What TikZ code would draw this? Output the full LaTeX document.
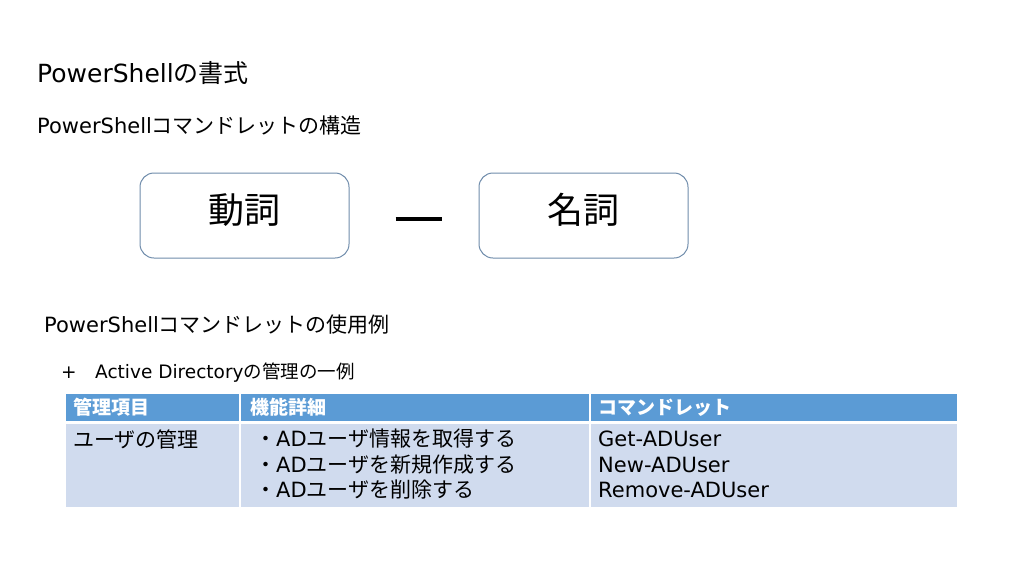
\documentclass[tikz,border=0pt]{standalone}
\usepackage{fontspec}
\setmainfont{Noto Sans CJK JP}
\newfontfamily\lat{DejaVu Sans}
\definecolor{hdr}{HTML}{5B9BD5}
\definecolor{bodyc}{HTML}{D0DBEE}
\definecolor{boxline}{HTML}{6F8CAB}
\begin{document}
\begin{tikzpicture}[x=1pt,y=-1pt,
  txt/.style={inner sep=0pt,anchor=west},
  cmdbox/.style={draw=boxline,line width=1pt,rounded corners=14pt,minimum width=209pt,minimum height=85pt,font=\fontsize{36}{40}\selectfont},
  hcell/.style={txt,text=white,font=\fontsize{19}{22}\selectfont\bfseries},
  bcell/.style={txt,font=\fontsize{21}{25}\selectfont}]
\useasboundingbox (0,0) rectangle (1024,576);
\fill[white] (0,0) rectangle (1024,576);
\node[txt,font=\fontsize{25}{30}\selectfont] (title) at (37,73) {{\lat PowerShell}の書式};
\node[txt,font=\fontsize{21}{25}\selectfont] (sub1) at (37,126) {{\lat PowerShell}コマンドレットの構造};
\node[cmdbox] (verb) at (244.5,215.5) {\smash{\raisebox{-7.5pt}{動詞}}};
\node[cmdbox] (noun) at (583.5,215.5) {\smash{\raisebox{-7.5pt}{名詞}}};
\draw[line width=4pt] ([shift={(46,3)}]verb.east) -- ([shift={(-37,3)}]noun.west);
\node[txt,font=\fontsize{21}{25}\selectfont] (sub2) at (44,325) {{\lat PowerShell}コマンドレットの使用例};
\node[txt,font=\fontsize{18.5}{22}\selectfont\lat] (plus) at (61,372.5) {+};
\node[txt,font=\fontsize{18.5}{22}\selectfont] (ad) at (95,372.5) {{\lat Active Directory}の管理の一例};
% table
\fill[hdr] (66,394) rectangle (239,421);
\fill[hdr] (241,394) rectangle (589,421);
\fill[hdr] (591,394) rectangle (957,421);
\fill[bodyc] (66,424) rectangle (239,507);
\fill[bodyc] (241,424) rectangle (589,507);
\fill[bodyc] (591,424) rectangle (957,507);
\node[hcell] (h1) at (73,407.5) {管理項目};
\node[hcell] (h2) at (250,407.5) {機能詳細};
\node[hcell] (h3) at (598,407.5) {コマンドレット};
\node[bcell] (c1) at (73,439) {ユーザの管理};
\node[bcell] (f1) at (255,439) {・{\lat AD}ユーザ情報を取得する};
\node[bcell] (f2) at (255,464.5) {・{\lat AD}ユーザを新規作成する};
\node[bcell] (f3) at (255,490) {・{\lat AD}ユーザを削除する};
\node[bcell,font=\fontsize{21}{25}\selectfont\lat] (m1) at (598,439) {Get-ADUser};
\node[bcell,font=\fontsize{21}{25}\selectfont\lat] (m2) at (598,464.5) {New-ADUser};
\node[bcell,font=\fontsize{21}{25}\selectfont\lat] (m3) at (598,490) {Remove-ADUser};
\end{tikzpicture}
\end{document}
